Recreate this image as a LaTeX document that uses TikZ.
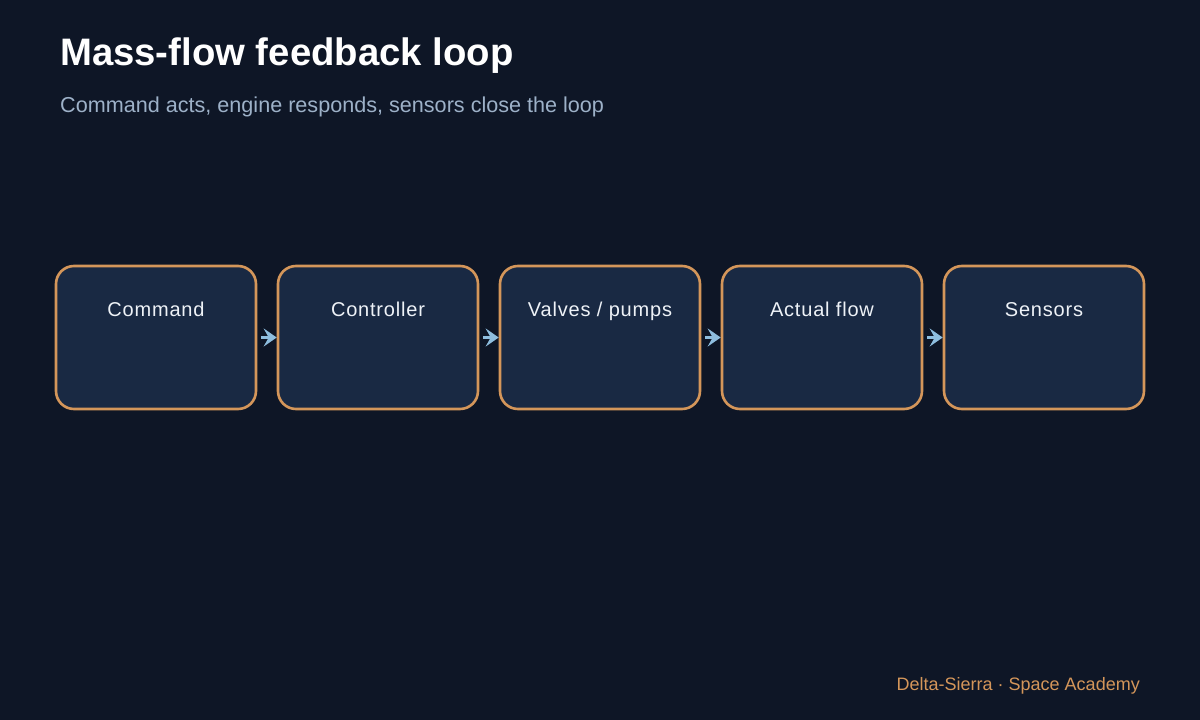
\documentclass[tikz,border=0pt]{standalone}
\usepackage{fontspec}
\setmainfont{Liberation Sans}
\usepackage{xcolor}
\usetikzlibrary{arrows.meta, positioning, calc}
\definecolor{bgnavy}{HTML}{0E1626}
\definecolor{boxnavy}{HTML}{192943}
\definecolor{copper}{HTML}{D4965A}
\definecolor{skyarrow}{HTML}{8EBEDF}
\definecolor{subgray}{HTML}{9DB1C8}
\definecolor{labelwhite}{HTML}{EEF2F7}

\tikzset{
    stage/.style={draw=copper, fill=boxnavy, line width=2.6pt, rounded corners=18pt,
        minimum width=200pt, minimum height=143pt, inner sep=0pt},
    stagelabel/.style={anchor=base, text=labelwhite, font=\fontsize{20}{24}\selectfont\addfontfeature{LetterSpace=4}},
    flow/.style={draw=skyarrow, line width=3pt, -{Stealth[length=13pt, width=18pt, inset=5pt]}, shorten <=4pt}
}

\begin{document}
\begin{tikzpicture}[x=1pt, y=-1pt]
                % Background
                \fill[bgnavy] (0,0) rectangle (1200,720);
                \useasboundingbox (0,0) rectangle (1200,720);
                % Heading
                \node[anchor=base west, inner sep=0pt, text=white, font=\fontsize{38.3}{46}\selectfont\bfseries] (title) at (60,65) {Mass-flow feedback loop};
                \node[anchor=base west, inner sep=0pt, text=subgray, font=\fontsize{21.6}{26}\selectfont] (subtitle) at (60,112) {Command acts, engine responds, sensors close the loop};
                % Stages
                \foreach \x/\name/\txt in {156/cmd/Command, 378/ctrl/Controller, 600/valve/{Valves / pumps}, 822/actual/Actual flow, 1044/sens/Sensors} {
                    \node[stage] (\name) at (\x,337.5) {};
                    \node[stagelabel] (\name-lbl) at ($(\name.north)+(0,51.5)$) {\txt};
                }
                % Arrows
                \foreach \a/\b in {cmd/ctrl, ctrl/valve, valve/actual, actual/sens} {
                    \draw[flow] (\a.east) -- (\b.west);
                }
                % Footer
                \node[anchor=base east, inner sep=0pt, text=copper, font=\fontsize{18}{22}\selectfont] (footer) at (1140,690) {Delta-Sierra · Space Academy};
\end{tikzpicture}
\end{document}
